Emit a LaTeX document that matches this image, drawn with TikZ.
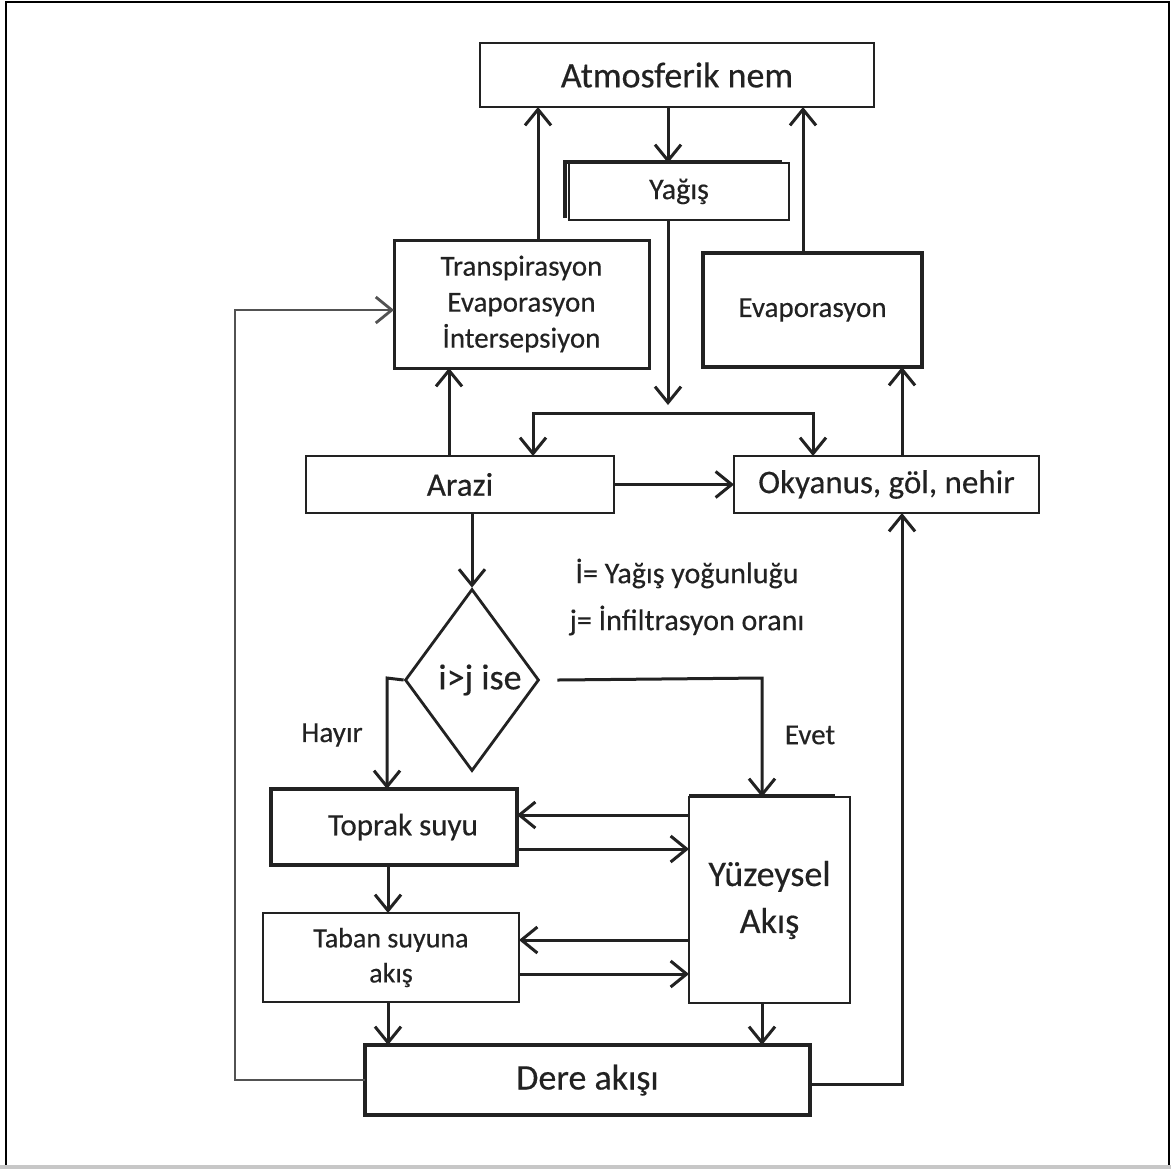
\documentclass[tikz,border=0pt]{standalone}
\usepackage{fontspec}
\setmainfont{Carlito}[FakeBold=0.35]
\usetikzlibrary{arrows.meta,shapes.geometric}
\definecolor{ink}{HTML}{222222}
\begin{document}
\begin{tikzpicture}[x=0.5pt,y=-0.5pt,
  box/.style={draw=ink, line width=1.4pt, rectangle, inner sep=0pt, outer sep=0pt,
    align=center, text=ink},
  heavybox/.style={box, line width=2pt},
  arr/.style={draw=ink, line width=1.5pt, -{Straight Barb[length=8pt,width=13pt]}},
  arrboth/.style={draw=ink, line width=1.5pt,
    {Straight Barb[length=8pt,width=13pt]}-{Straight Barb[length=8pt,width=13pt]}},
  loopline/.style={draw=black!68, line width=1.4pt, -{Straight Barb[length=8pt,width=13pt]}},
  label/.style={text=ink, inner sep=0pt},
  f/.style={font=\fontsize{#1pt}{1.22\dimexpr #1pt\relax}\selectfont}
]
\useasboundingbox (0,0) rectangle (1171,1169);
\fill[white] (0,0) rectangle (1171,1169);

% outer frame
\draw[black, line width=1.2pt] (6,1166) -- (6,2) -- (1169,2) -- (1169,1166);
\draw[black!22, line width=2pt] (0,1167) -- (1171,1167);

% boxes
\node[box, f=18, minimum width=197pt, minimum height=32pt] (atm) at (677,75) {Atmosferik nem};
\node[box, f=15, minimum width=110pt, minimum height=28.5pt] (yag) at (679,191.5) {Yağış};
\draw[ink, line width=1.6pt] (565,218) -- (565,162) -- (782,162);
\node[box, line width=1.5pt, font=\fontsize{14.5pt}{18pt}\selectfont,
      minimum width=127.5pt, minimum height=64pt] (trans) at (521.5,304)
      {Transpirasyon\\Evaporasyon\\İntersepsiyon};
\node[heavybox, f=14.5, minimum width=109.5pt, minimum height=57pt] (evap) at (812.5,310)
      {Evaporasyon};
\node[box, f=16.5, minimum width=154pt, minimum height=28.5pt] (arazi) at (460,484.5) {Arazi};
\node[box, f=16.5, minimum width=152.5pt, minimum height=28.5pt] (oky) at (886.5,484.5) {Okyanus, göl, nehir};
\node[draw=ink, diamond, line width=1.4pt, minimum width=67pt, minimum height=91pt,
      inner sep=0pt, text=ink, f=18] (dia) at (472,680) {\hspace*{8pt}i>j ise};
\node[label, align=center, font=\fontsize{15pt}{23.5pt}\selectfont] (leg) at (687,597)
      {İ= Yağış yoğunluğu\\j= İnfiltrasyon oranı};
\node[heavybox, f=15.5, minimum width=123pt, minimum height=38pt] (toprak) at (394,827) {\hspace*{9pt}Toprak suyu};
\node[box, font=\fontsize{14pt}{17.5pt}\selectfont, minimum width=128pt, minimum height=44.5pt] (taban) at (391,957.5)
      {Taban suyuna\\akış};
\node[box, font=\fontsize{18pt}{23.5pt}\selectfont, minimum width=80.5pt, minimum height=103pt] (yuz) at (769.5,900)
      {Yüzeysel\\Akış};
\draw[ink, line width=1.4pt] (689,795) -- (835,795);
\node[heavybox, f=18, minimum width=222.5pt, minimum height=35pt] (dere) at (587.5,1080) {Dere akışı};

% branch labels
\node[label, f=14.5] (hayir) at (332,735) {Hayır};
\node[label, f=14.5] (evet) at (810,735) {Evet};

% connector columns and bends
\coordinate (cA) at (668,405);
\coordinate (cT) at (538,0);
\coordinate (cE) at (803,0);
\coordinate (cAr) at (449,0);
\coordinate (spl) at (533,413);
\coordinate (spr) at (813,413);
\coordinate (cR) at (902,1084);
\coordinate (cH) at (387,678);
\coordinate (cY) at (762,678);
\coordinate (cS) at (388,0);
\coordinate (lpb) at (235,1080);
\coordinate (lpt) at (235,310);
\coordinate (cU1) at (0,815);
\coordinate (cU2) at (0,849);
\coordinate (cU3) at (0,940);
\coordinate (cU4) at (0,974);

% upper part
\draw[arr] (atm.south -| cA) -- (yag.north -| cA);
\draw[arr] (yag.south -| cA) -- (cA);
\draw[arrboth] (arazi.north -| spl) |- (spr) -- (oky.north -| spr);
\draw[arr] (trans.north -| cT) -- (atm.south -| cT);
\draw[arr] (evap.north -| cE) -- (atm.south -| cE);
\draw[arr] (arazi.north -| cAr) -- (trans.south -| cAr);
\draw[arr] (oky.north -| cR) -- (evap.south -| cR);
\draw[arr] (arazi.east) -- (oky.west);

% decision
\draw[arr] (arazi.south -| dia.north) -- (dia.north);
\draw[arr] (dia.west) -- (cH) -- (toprak.north -| cH);
\draw[arr] ([xshift=8.5pt]dia.east) -- (cY) -- (yuz.north -| cY);

% soil, groundwater and surface runoff
\draw[arr] (yuz.west |- cU1) -- (toprak.east |- cU1);
\draw[arr] (toprak.east |- cU2) -- (yuz.west |- cU2);
\draw[arr] (yuz.west |- cU3) -- (taban.east |- cU3);
\draw[arr] (taban.east |- cU4) -- (yuz.west |- cU4);
\draw[arr] (toprak.south -| cS) -- (taban.north -| cS);
\draw[arr] (taban.south -| cS) -- (dere.north -| cS);
\draw[arr] (yuz.south -| cY) -- (dere.north -| cY);

% return loops
\draw[loopline] (dere.west) -- (lpb) -- (lpt) -- (trans.west |- lpt);
\draw[arr] (dere.east |- cR) -- (cR) -- (oky.south -| cR);
\end{tikzpicture}
\end{document}
